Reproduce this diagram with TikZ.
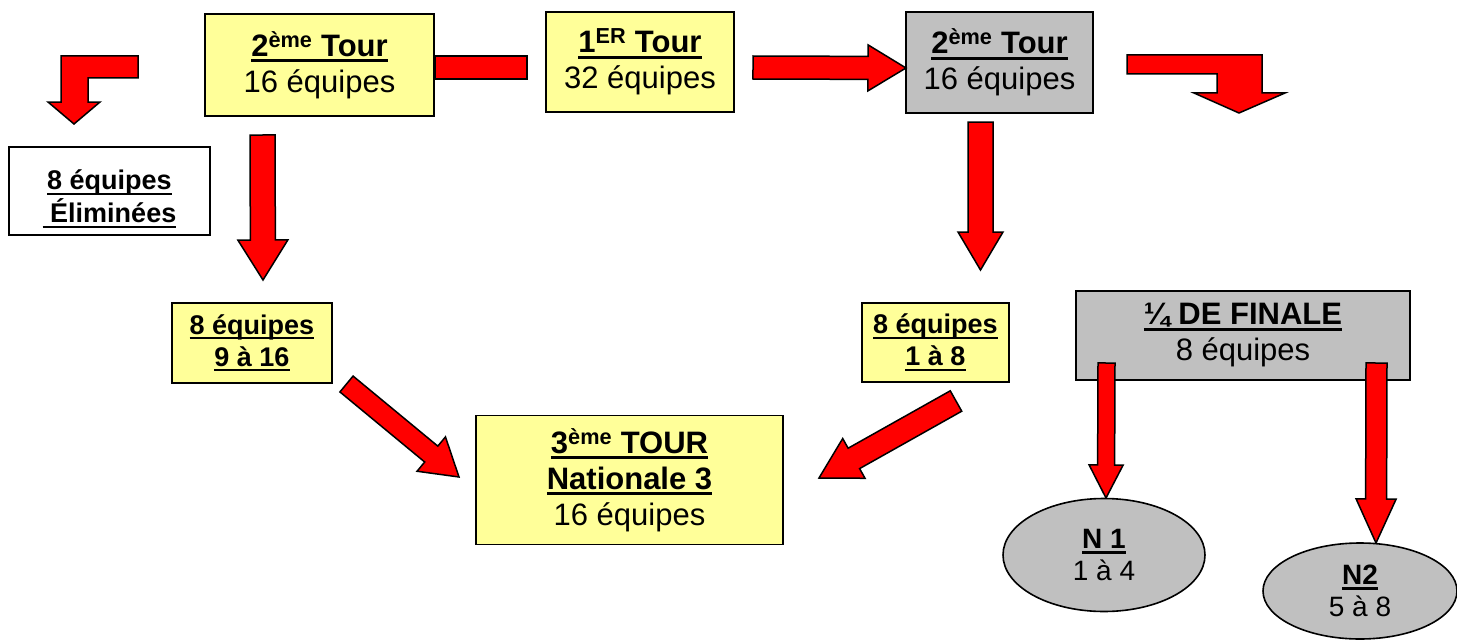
\documentclass[tikz,border=0pt]{standalone}
\usepackage{fontspec}
\setmainfont{Liberation Sans}
\usetikzlibrary{calc,shapes.geometric}
\definecolor{boxyellow}{HTML}{FFFF99}
\definecolor{boxgray}{HTML}{C0C0C0}
\definecolor{arrowred}{HTML}{FF0000}
\newcommand\myul[1]{\leavevmode\setbox0\hbox{#1}\rlap{\rule[-0.19em]{\wd0}{0.09em}}\box0}
% #1 start, #2 end, #3 half shaft width, #4 half head width, #5 head length
\newcommand\blockarrow[5]{%
  \coordinate (bab) at ($(#2)!#5!(#1)$);
  \draw[redarrow] ($(#1)!#3!90:(#2)$) -- ($(bab)!#3!90:(#2)$) -- ($(bab)!#4!90:(#2)$)
    -- (#2) -- ($(bab)!#4!-90:(#2)$) -- ($(bab)!#3!-90:(#2)$) -- ($(#1)!#3!-90:(#2)$) -- cycle;}
\begin{document}
\begin{tikzpicture}[x=1pt,y=-1pt,
  box/.style={draw=black, line width=1.6pt, inner sep=0pt, align=center,
    font=\fontsize{31}{36}\selectfont},
  ybox/.style={box, fill=boxyellow},
  gbox/.style={box, fill=boxgray},
  smallbox/.style={box, font=\fontsize{27}{32}\selectfont\bfseries},
  oval/.style={draw=black, line width=1.6pt, fill=boxgray, ellipse, inner sep=0pt,
    align=center, font=\fontsize{28}{32}\selectfont},
  redarrow/.style={fill=arrowred, draw=black, line width=1.5pt, line join=miter}]
\useasboundingbox (0,0) rectangle (1457,642);

% boxes
\node[ybox, minimum width=229pt, minimum height=102pt] (A) at (319.5,65)
  {\myul{\textbf{2\textsuperscript{ème} Tour}}\\16 équipes};
\node[ybox, minimum width=188pt, minimum height=100pt] (B) at (640,62)
  {\myul{\textbf{1\textsuperscript{ER} Tour}}\\32 équipes};
\node[gbox, minimum width=187pt, minimum height=101pt] (C) at (999.5,62.5)
  {\myul{\textbf{2\textsuperscript{ème} Tour}}\\16 équipes};
\node[smallbox, fill=white, minimum width=201pt, minimum height=88pt] (elim) at (109.5,191) {};
\node[align=center, inner sep=0pt, font=\fontsize{27}{33}\selectfont\bfseries]
  (elimtext) at ($(elim.center)+(0,8)$) {\myul{8 équipes}\\\myul{\ Éliminées}};
\node[smallbox, fill=boxyellow, minimum width=160pt, minimum height=80pt] (D) at (252,343)
  {\myul{8 équipes}\\\myul{9 à 16}};
\node[smallbox, fill=boxyellow, minimum width=147pt, minimum height=79pt] (E) at (935.5,342.5)
  {\myul{8 équipes}\\\myul{1 à 8}};
\node[gbox, minimum width=334pt, minimum height=89pt] (F) at (1243,335.5)
  {\myul{\textbf{¼ DE FINALE}}\\8 équipes};
\node[ybox, minimum width=307pt, minimum height=129pt] (G) at (629.5,480)
  {\myul{\textbf{3\textsuperscript{ème} TOUR}}\\\myul{\textbf{Nationale 3}}\\16 équipes};

% connector end points
\coordinate (bc1) at (753,67.5);  \coordinate (bc2) at (906,68);
\coordinate (ad1) at (262.5,135); \coordinate (ad2) at (263,280);
\coordinate (ce1) at (980.5,122); \coordinate (ce2) at (980.5,270);
\coordinate (dg1) at (346.5,384); \coordinate (dg2) at (459,477);
\coordinate (eg1) at (956,401);   \coordinate (eg2) at (819,478);
\coordinate (fn1a) at (1106.5,363); \coordinate (fn1b) at (1106,498);
\coordinate (fn2a) at (1376.5,363); \coordinate (fn2b) at (1376,543);

% bar between A and B
\draw[redarrow] (A.east |- 0,56) rectangle (527,79);
% straight block arrows
\blockarrow{bc1}{bc2}{11.5pt}{23pt}{38pt}
\blockarrow{ad1}{ad2}{12.5pt}{25pt}{40pt}
\blockarrow{ce1}{ce2}{12.5pt}{22.5pt}{38pt}
\blockarrow{dg1}{dg2}{10.3pt}{22.3pt}{36pt}
\blockarrow{eg1}{eg2}{11.7pt}{22.8pt}{40pt}
\blockarrow{fn1a}{fn1b}{8.5pt}{17pt}{33pt}
\blockarrow{fn2a}{fn2b}{10.5pt}{20pt}{44pt}

% bent arrows
\draw[redarrow] (138,56) -- (61,56) -- (61,102) -- (48,102) -- (74,124) -- (100,102)
  -- (88,102) -- (88,78) -- (138,78) -- cycle;
\draw[redarrow] (1127,55) -- (1262,55) -- (1262,93) -- (1285,93) -- (1239,113)
  -- (1194,93) -- (1217,93) -- (1217,74) -- (1127,74) -- cycle;

% ovals
\node[oval, minimum width=202pt, minimum height=113pt] (N1) at (1104,555)
  {\myul{\textbf{N 1}}\\1 à 4};
\node[oval, minimum width=194pt, minimum height=96pt] (N2) at (1360,591)
  {\myul{\textbf{N2}}\\5 à 8};
\end{tikzpicture}
\end{document}
